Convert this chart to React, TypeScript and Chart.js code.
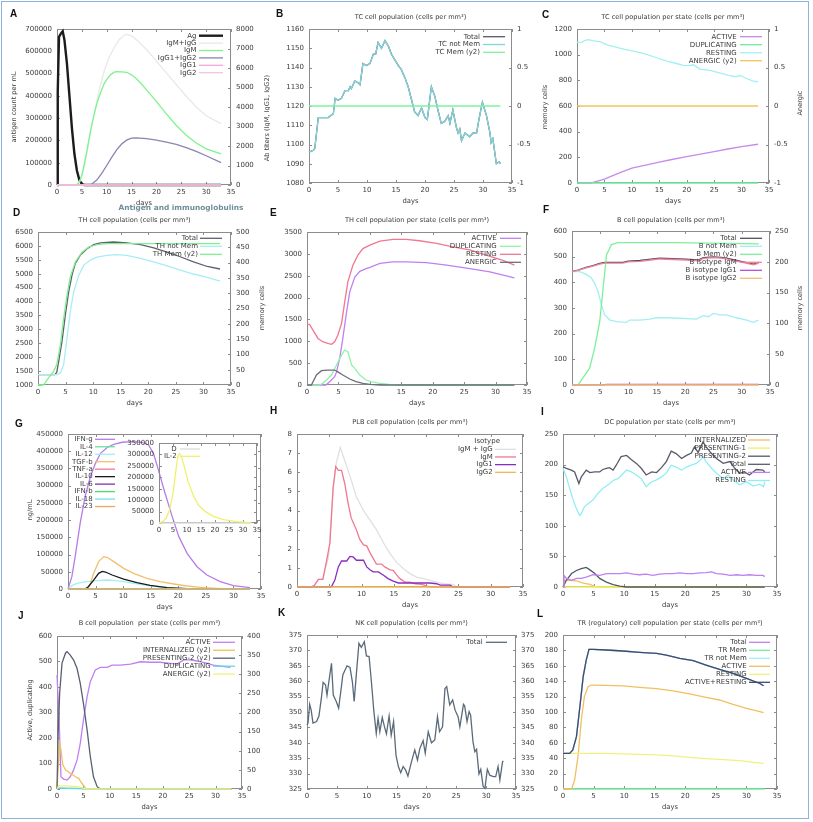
import React, { useEffect, useRef } from 'react';
import { Chart, registerables } from 'chart.js';

Chart.register(...registerables);
const FONT = '"DejaVu Sans", sans-serif';
Chart.defaults.font.family = FONT;

const TXT = '#3a3a3a';
const FRAME = '#8c8c8c';

type Pt = [number, number];

// ---------- A: Antigen and immunoglobulins ----------
const A_AG: Pt[] = [[0,0],[0.15,420000],[0.4,665000],[0.8,680000],[1.15,690000],[1.5,650000],[2,545000],[2.5,400000],[3,255000],[3.5,140000],[4,65000],[4.5,22000],[5,4000],[5.5,0],[33,0]];
const A_IGM_IGG: Pt[] = [[0,0],[3.5,0],[4.5,120],[5.5,900],[6.5,2300],[7.5,3700],[8.5,4900],[9.5,5850],[10.5,6550],[11.5,7050],[12.5,7450],[13.5,7680],[14,7720],[15,7650],[16,7450],[18,6950],[20,6350],[22,5750],[24,5150],[26,4550],[28,4000],[30,3550],[33,3150]];
const A_IGM: Pt[] = [[0,0],[4,0],[4.5,150],[5,500],[5.5,1100],[6,1750],[6.5,2450],[7,3100],[7.5,3650],[8,4150],[8.5,4550],[9,4900],[9.5,5200],[10,5400],[10.5,5580],[11,5700],[11.5,5790],[12,5810],[13,5800],[14,5780],[15,5650],[16,5450],[17,5180],[18,4880],[19,4580],[20,4280],[22,3650],[24,3050],[26,2550],[28,2150],[30,1850],[33,1600]];
const A_IGG: Pt[] = [[0,0],[6.5,0],[7,50],[8,250],[9,600],[10,1000],[11,1420],[12,1800],[13,2100],[14,2300],[15,2400],[16,2420],[18,2380],[20,2300],[22,2200],[24,2080],[26,1920],[28,1720],[30,1500],[33,1150]];
const A_IGG1: Pt[] = [[0,0],[33,0]];
const A_IGG2: Pt[] = [[0,0],[33,0]];

// ---------- B: TC cell population ----------
const B_NOTMEM: Pt[] = [[0,1096],[0.75,1097],[1,1098],[1.6,1114],[3.3,1114],[4.2,1116],[4.5,1124],[5,1123],[5.6,1124],[6.2,1128],[6.8,1128],[7.1,1130],[7.3,1129],[7.9,1133],[8.5,1132],[8.8,1131],[9.3,1142],[9.9,1141],[10.5,1142],[11.1,1147],[11.5,1147],[11.9,1153],[12.5,1150],[13.1,1154],[13.7,1151],[14.2,1147],[14.8,1144],[15.4,1141],[15.9,1139],[16.5,1135],[17.1,1130],[17.7,1123],[18.2,1117],[18.8,1115],[19.4,1119],[20,1114],[20.4,1113],[21.1,1130],[21.7,1125],[22.3,1117],[22.8,1111],[23.4,1112],[24,1115],[24.3,1111],[24.8,1118],[25.4,1109],[25.7,1106],[26,1108],[26.3,1102],[26.9,1106],[27.7,1104],[28.3,1106],[28.9,1106],[29.3,1113],[29.9,1122],[30.6,1115],[31.2,1106],[31.4,1101],[31.7,1103],[32.3,1090],[32.8,1091],[33,1090]];
const B_TOTAL: Pt[] = B_NOTMEM;
const B_MEM: Pt[] = [[0,0],[33,0]];

// ---------- C: TC cell population per state ----------
const C_ACTIVE: Pt[] = [[0,0],[2.5,0],[5,31],[7.5,75],[10,115],[12.5,140],[15,162],[17.5,185],[20,205],[22.5,225],[25,245],[27.5,265],[30,284],[33,302]];
const C_DUP: Pt[] = [[0,0],[33,0]];
const C_RESTING: Pt[] = [[0,1096],[0.9,1096],[1.5,1112],[2.1,1117],[3,1108],[4.2,1101],[5.5,1077],[7.3,1057],[8.8,1040],[10.3,1027],[11.5,1015],[12.7,1002],[14.5,976],[16.4,950],[17.6,937],[19.4,916],[20.6,914],[21.2,921],[22.4,888],[24.2,877],[26,859],[27.6,838],[29,828],[29.7,838],[30.6,820],[32.1,794],[33,789]];
const C_ANERGIC: Pt[] = [[0,0],[33,0]];

// ---------- D: TH cell population ----------
const D_TOTAL: Pt[] = [[0,1370],[3,1370],[3.4,1450],[3.75,1850],[4.35,2560],[4.96,3520],[5.56,4350],[6.17,4950],[6.77,5370],[7.68,5670],[8.9,5900],[10.1,6050],[11.3,6110],[13.7,6140],[16.1,6110],[18.6,6050],[21,5930],[23.4,5780],[25.8,5610],[28.2,5430],[30.7,5260],[33,5170]];
const D_NOTMEM: Pt[] = [[0,1370],[3.5,1370],[4.1,1450],[4.65,1730],[5.26,2680],[5.86,3640],[6.47,4350],[7.4,4950],[8.3,5310],[9.5,5490],[10.7,5600],[12.5,5660],[14.3,5690],[16.1,5660],[18.6,5550],[21,5430],[23.4,5280],[25.8,5130],[28.2,4990],[30.7,4870],[33,4730]];
const D_MEM: Pt[] = [[0,0],[1,0],[1.9,23],[2.8,44],[3.4,66],[4.05,131],[4.65,218],[5.26,294],[5.86,354],[6.77,402],[7.98,434],[9.2,451],[10.7,459],[12.5,462],[33,462]];

// ---------- E: TH cell population per state ----------
const E_ACTIVE: Pt[] = [[0,0],[3,0],[3.6,76],[4.4,190],[4.7,300],[5.2,610],[5.7,1065],[6.3,1675],[6.8,2130],[7.6,2470],[8.4,2600],[9.4,2660],[10,2690],[11.6,2780],[13.7,2815],[15.8,2815],[19,2800],[22.2,2740],[25.9,2660],[29.1,2590],[33,2450]];
const E_DUP: Pt[] = [[0,0],[2,0],[2.5,38],[3.1,114],[3.9,228],[4.7,456],[5.5,685],[6,800],[6.5,760],[7.1,456],[7.6,380],[8.4,228],[9.4,114],[10.2,76],[11.6,38],[13.1,15],[15.3,0],[33,0]];
const E_RESTING: Pt[] = [[0,1385],[0.4,1385],[0.95,1255],[1.75,1065],[2.5,990],[3.3,950],[3.9,930],[4.4,990],[4.9,1140],[5.5,1410],[6,1900],[6.5,2360],[7.3,2740],[8.1,2970],[8.9,3120],[10,3200],[11.6,3290],[13.7,3330],[15.8,3330],[17.9,3300],[20.6,3240],[23.2,3160],[25.9,3090],[28.5,2970],[31.2,2850],[33,2740]];
const E_ANERGIC: Pt[] = [[0,0],[0.7,0],[1.5,228],[2.3,327],[3.3,342],[4.4,342],[4.9,300],[5.7,228],[6.8,137],[7.8,76],[8.9,38],[10,15],[11.6,0],[33,0]];

// ---------- F: B cell population ----------
const F_TOTAL: Pt[] = [[0,442],[1.06,448],[2.5,458],[3.7,465],[4.9,474],[5.8,478],[7,478],[9,478],[9.9,483],[12,485],[14.3,491],[15.5,494],[17.9,492],[20.2,490],[22.3,487],[23.2,496],[25,499],[26.4,497],[27.3,494],[29.7,483],[32.1,471],[33,478]];
const F_NOTMEM: Pt[] = [[0,442],[1.4,442],[2.5,431],[3.4,418],[4,396],[4.6,364],[5.2,312],[5.8,273],[6.7,253],[7.9,247],[9.6,244],[10.2,253],[12,253],[13.8,257],[14.9,262],[16.7,262],[19.1,260],[22,257],[23.2,270],[24.1,266],[25,279],[26.2,273],[27.3,273],[29.1,262],[30.9,253],[32,244],[33,253]];
const F_MEM: Pt[] = [[0,0],[1.06,0],[1.9,11],[3.1,27],[4,60],[4.9,103],[5.5,157],[6.1,211],[6.97,228],[8.1,231],[17.9,231],[33,229]];
const F_IGM: Pt[] = [[0,441],[1.06,447],[2.5,456],[3.7,463],[4.9,471],[5.8,475],[9,475],[9.9,480],[12,482],[14.3,488],[15.5,491],[17.9,489],[20.2,487],[22.3,484],[23.2,493],[25,496],[26.4,494],[27.3,491],[29.7,480],[32.1,468],[33,475]];
const F_IGG1: Pt[] = [[0,0],[5.8,0],[6,2],[33,2]];
const F_IGG2: Pt[] = [[0,0],[33,0]];

// ---------- G: cytokines ----------
const G_IFNG: Pt[] = [[0,0],[0.1,0],[0.7,35800],[1.3,93900],[2.2,190600],[3.1,268000],[4.05,326000],[4.96,364000],[5.9,394000],[7.1,411000],[8.3,420000],[9.8,426000],[11.6,428000],[13.4,426000],[14.6,418000],[15.5,394000],[16.4,345000],[17.6,278000],[18.9,210000],[20.1,152000],[21.6,103500],[23.4,64800],[25.2,40600],[27.6,21300],[30,9700],[33,4000]];
const G_IL4: Pt[] = [[0,0],[33,0]];
const G_IL12: Pt[] = [[0,0],[0.1,0],[0.7,9700],[1.6,16500],[3.4,21300],[5.3,24200],[7.1,26100],[8.3,25200],[10.1,21300],[11.9,16500],[14.3,10600],[16.7,5800],[19.2,2900],[21.6,970],[24,0],[33,0]];
const G_TGFB: Pt[] = [[0,0],[3.4,0],[4.05,16500],[4.65,45500],[5.56,79400],[6.47,93900],[7.07,92000],[8.3,79400],[10.1,60000],[11.9,45500],[14.3,31000],[16.7,21300],[19.2,14500],[21.6,8700],[24,4800],[27,1900],[30,0],[33,0]];
const G_TNFA: Pt[] = [[0,0],[33,0]];
const G_IL10: Pt[] = [[0,0],[3.1,0],[3.7,6800],[4.65,26000],[5.56,45500],[6.2,51300],[6.8,49300],[8,40600],[10.1,29000],[12.5,18400],[14.9,10600],[17.96,3900],[21.6,970],[24,0],[33,0]];
const G_IL6: Pt[] = [[0,0],[33,0]];
const G_IFNB: Pt[] = [[0,0],[33,0]];
const G_IL18: Pt[] = [[0,0],[33,0]];
const G_IL23: Pt[] = [[0,0],[33,0]];
const G_D: Pt[] = [[0,0],[33,0]];
const G_IL2: Pt[] = [[0,0],[1.4,7200],[2.6,21700],[3.8,57900],[5,130000],[6.2,246000],[6.8,296000],[7.4,304000],[8,290000],[9.2,239000],[10.4,181000],[12.2,123000],[14,79500],[16.4,50600],[19.4,28900],[23,14500],[27.8,5800],[32.6,1400],[33,0]];

// ---------- H: PLB cell population ----------
const H_IGMIGG: Pt[] = [[0,0],[2.2,0],[2.7,0.1],[3.3,0.4],[4,0.4],[4.9,1.6],[5.6,5.2],[6.1,6.5],[6.7,7.3],[7.4,6.6],[8.2,5.8],[9.2,4.7],[10.3,4.0],[11.3,3.5],[12.3,3.0],[13.4,2.3],[14.4,1.75],[15.4,1.3],[16.5,0.95],[17.5,0.7],[18.5,0.52],[19.6,0.44],[20.6,0.35],[21.6,0.26],[22.7,0.17],[24.2,0.12],[24.8,0],[33,0]];
const H_IGM: Pt[] = [[0,0],[2.2,0],[2.7,0.09],[3.3,0.4],[4,0.4],[4.6,1.4],[5.1,2.3],[5.6,5.2],[6,6.3],[6.4,6.1],[6.9,6.1],[7.4,5.4],[7.9,4.4],[8.4,3.6],[9.2,3.0],[9.7,2.5],[10.3,2.2],[10.8,2.15],[11.3,1.8],[11.8,1.5],[12.3,1.2],[13.1,1.2],[13.6,1.05],[14.4,0.9],[14.9,0.87],[15.4,0.65],[15.9,0.45],[16.7,0.26],[17.5,0.26],[18.3,0.17],[19.3,0.14],[19.8,0.09],[20.6,0],[33,0]];
const H_IGG1: Pt[] = [[0,0],[5.3,0],[5.85,0.35],[6.4,1.05],[6.9,1.36],[7.7,1.36],[8.2,1.6],[8.7,1.57],[9.2,1.4],[10.3,1.4],[10.8,1.05],[11.3,0.9],[11.8,0.79],[12.6,0.79],[13.4,0.61],[14.1,0.44],[14.9,0.31],[15.7,0.21],[20.6,0.21],[21.6,0.17],[22.2,0.1],[23.7,0.1],[24.2,0],[33,0]];
const H_IGG2: Pt[] = [[0,0],[33,0]];

// ---------- I: DC population per state ----------
const I_INT: Pt[] = [[0,0],[0.3,11],[1.1,11],[2.2,10],[3.3,6.5],[4.4,4.4],[5.2,1],[6,0],[33,0]];
const I_PRES1: Pt[] = [[0,0],[33,0]];
const I_PRES2: Pt[] = [[0,0],[0.55,11],[1.4,22],[2.2,27],[3,30],[3.8,32],[4.4,28],[5.2,22],[6,14],[7.1,8],[8.2,4],[9.3,1.6],[10.4,0],[33,0]];
const I_TOTAL: Pt[] = [[0,196.5],[0.55,193.9],[1.36,191],[1.9,188],[2.6,169],[3,180],[3.8,191],[4.4,187],[5.2,188],[6,188],[6.5,192],[7.1,194],[7.6,195],[8.2,191],[8.7,199],[9.5,213],[10.4,215],[11.2,208],[12,202],[12.8,194],[13.6,183],[14.5,188],[15.3,187],[16.1,195],[16.9,205],[17.7,222],[18.5,218],[19.4,210],[20.2,215],[21,219],[21.5,229],[22.1,220],[22.9,237],[23.4,229],[24.3,218],[25.1,210],[26.2,202],[27.3,205],[28.1,194],[28.9,186],[29.7,188],[30.5,183],[31.6,192],[32.7,191],[33,188]];
const I_ACTIVE: Pt[] = [[0,0],[0.16,19],[0.55,14],[1.4,11],[2.2,14],[3,14],[3.8,16],[4.9,20],[6,19],[7.1,22],[8.2,22],[9.3,22],[10.4,23],[11.5,21],[12.5,20],[13.6,21],[14.7,19],[15.8,21],[16.9,22],[18,22],[19.1,23],[20.2,22],[21.3,22],[22.4,23],[23.4,23.5],[24.3,24.6],[25.1,22],[26.2,21],[27.3,19],[28.4,20],[29.4,19],[30.5,20],[31.6,19],[32.7,19],[33,17]];
const I_RESTING: Pt[] = [[0,194],[0.55,180],[1.1,161],[1.6,144],[2.2,128],[2.7,117],[3,120],[3.5,131],[4.1,136],[4.9,142],[5.7,153],[6.5,161],[7.4,167],[8.2,174],[9,177],[9.8,185],[10.4,191],[11.2,188],[12,183],[12.8,177],[13.6,164],[14.5,172],[15.3,175],[16.1,180],[16.9,186],[17.7,199],[18.5,196],[19.4,191],[20.2,196],[21,199],[21.8,202],[22.4,207],[22.9,213],[23.4,205],[24.3,194],[25.1,186],[26.2,177],[27,183],[27.8,175],[28.9,167],[30,172],[31.1,165],[32.2,168],[32.8,164],[33,172]];

// ---------- J: B cell population per state ----------
const J_ACTIVE: Pt[] = [[0,447],[0.1,447],[0.4,270],[0.75,48],[1.26,39],[1.9,35],[2.5,48],[3.15,75],[3.8,114],[4.4,179],[5,270],[5.7,362],[6.3,421],[7.25,467],[8.2,477],[9.5,477],[10.4,486],[12,486],[13.9,490],[15.8,499],[17.65,497],[19.5,497],[21.4,493],[22.7,490],[24,506],[25.2,506],[26.5,502],[27.7,497],[29.6,486],[30.9,482],[32.8,477]];
const J_INT: Pt[] = [[0,0],[0.25,58],[0.5,119],[0.75,102],[1.1,63],[1.6,50],[2.5,41],[3.5,32],[4.1,28],[4.7,15],[5.4,2],[5.7,0],[33,0]];
const J_PRES2: Pt[] = [[0,0],[0.2,137],[0.5,250],[0.95,329],[1.6,355],[1.9,359],[2.5,350],[3.15,337],[3.8,315],[4.4,276],[5,224],[5.7,154],[6.3,85],[6.9,32],[7.6,6],[8.2,0],[33,0]];
const J_DUP: Pt[] = [[0,0],[0.5,4],[2,3],[4,2],[5.5,0],[33,0]];
const J_ANERGIC: Pt[] = [[0,0],[0.3,8],[1.9,8],[3.8,6],[5,2],[5.7,0],[33,0]];

// ---------- K: NK cell population ----------
const K_TOTAL: Pt[] = [[0,345.8],[0.17,346.4],[0.45,352.5],[0.7,350.6],[1,346.4],[1.6,346.9],[2,348.7],[2.4,354.4],[2.7,359.6],[3.1,358.8],[3.35,355.5],[3.7,360.4],[4.1,365.8],[4.4,355.5],[4.9,353.4],[5.3,351.2],[5.8,358.8],[6,362],[6.7,365],[7.2,364.5],[7.6,359.8],[7.9,353.4],[8.3,363.2],[8.7,372.3],[9.1,371],[9.6,372.8],[9.95,368.2],[10.4,368],[10.8,359.5],[11.2,350.1],[11.6,343],[11.9,347.9],[12.2,343.6],[12.6,348.2],[13,345],[13.3,342.9],[13.75,348.7],[14.1,342.5],[14.5,346.9],[14.9,336],[15.3,332.3],[15.7,330.3],[16.1,332.3],[16.5,331.2],[16.9,329.2],[17.5,333.9],[18.05,337.7],[18.5,334.4],[18.9,338.2],[19.45,340.7],[19.8,336.6],[20.3,343.6],[20.85,340],[21.4,340.9],[21.85,348.5],[22.2,343.6],[22.7,345.2],[23.1,357.6],[23.4,358.2],[23.9,352.3],[24.4,353.9],[24.8,350.6],[25.3,348.5],[25.6,345.2],[26.2,352.5],[26.4,352],[26.8,346.9],[27.15,350.1],[27.4,349],[27.8,340.3],[28.1,337.1],[28.4,337.9],[28.8,329.9],[29.1,331.4],[29.5,325.8],[29.8,325.2],[30.2,331.4],[30.6,329.5],[31.2,329],[31.6,329],[32,332.3],[32.3,327.9],[32.75,333.9],[32.9,334.1]];

// ---------- L: TR cell population per state ----------
const L_AR: Pt[] = [[0,46.3],[1.1,46.3],[1.6,50.6],[2.2,68],[2.7,102.6],[3.3,145.9],[3.8,167.5],[4.25,181.4],[4.9,181.4],[7.1,180.5],[9.8,179.2],[12.5,177.5],[15.3,176.2],[16.9,174],[19.1,169.7],[21.3,166.7],[23.4,161],[25.6,155.4],[27.8,150.2],[30,143.7],[32.2,137],[32.8,134]];
const L_TOTAL: Pt[] = L_AR;
const L_MEM: Pt[] = [[0,0],[33,0]];
const L_NOTMEM: Pt[] = L_AR;
const L_ACTIVE: Pt[] = [[0,0],[1.4,0],[1.9,11.7],[2.45,42],[3,89.6],[3.5,120],[4.1,132.9],[4.6,135],[7.1,134.6],[9.8,133.8],[12.5,132],[15.3,130.3],[18,127.3],[20.7,123.4],[23.4,119],[25.6,115.6],[27.8,110],[30,104.8],[32.2,100.4],[32.8,99.1]];
const L_RESTING: Pt[] = [[0,46.3],[7.1,46.3],[9.8,45.5],[12.5,45],[15.3,44.2],[18,42.9],[20.7,41.1],[23.4,39.4],[26.2,38.1],[28.9,36.8],[31.1,34.6],[32.8,33.3]];

// ---------- panel letters ----------
const LETTERS: [string, number, number][] = [
  ['A', 10, 13.5], ['B', 276, 14], ['C', 542, 14.5],
  ['D', 13, 212.5], ['E', 270, 212.5], ['F', 543, 209.5],
  ['G', 15, 424], ['H', 270, 411], ['I', 541, 412],
  ['J', 18, 616], ['K', 278, 613], ['L', 537, 614],
];

// ---------- layout types ----------
interface S { label: string; color: string; pts: Pt[]; y2?: boolean; w?: number }
interface Ax { min: number; max: number; step: number }
interface T { s: string; x: number; y: number; size?: number; bold?: boolean; color?: string; rot?: boolean }
interface Lg { tx: number; y0: number; dy: number; s1: number; s2: number; header?: string; hx?: number; hy?: number }
interface Panel {
  box: [number, number, number, number];
  plot: [number, number, number, number];
  y: Ax; y2?: Ax;
  series: S[]; legend: Lg; texts: T[];
}

const ttl = (s: string, x: number, y: number): T => ({ s, x, y, size: 6.6 });
const ylab = (s: string, x: number, y: number): T => ({ s, x, y, size: 6.6, rot: true });
const days = (p: [number, number, number, number]): T => ({ s: 'days', x: (p[0] + p[2]) / 2, y: p[3] + 18, size: 6.8 });

const PLOTS: Record<string, [number, number, number, number]> = {
  A: [57, 29, 231, 185], B: [309, 29, 512, 183], C: [577, 29, 769, 183],
  D: [38, 232, 231, 385], E: [307, 232, 527, 385], F: [572, 231, 770, 385],
  G: [68, 434, 261, 589], G2: [159, 443, 257, 523], H: [297, 434, 523, 587], I: [563, 434, 777, 587],
  J: [57, 636, 242, 789], K: [307, 635, 516, 789], L: [563, 635, 777, 789],
};
const cx = (k: string) => (PLOTS[k][0] + PLOTS[k][2]) / 2;

const PANELS: Panel[] = [
  {
    box: [0, 0, 270, 215], plot: PLOTS.A,
    y: { min: 0, max: 700000, step: 100000 }, y2: { min: 0, max: 8000, step: 1000 },
    series: [
      { label: 'Ag', color: '#1c1c1c', pts: A_AG, w: 2.4 },
      { label: 'IgM+IgG', color: '#e8e8e8', pts: A_IGM_IGG, y2: true },
      { label: 'IgM', color: '#7ef38e', pts: A_IGM, y2: true },
      { label: 'IgG1+IgG2', color: '#8886b2', pts: A_IGG, y2: true },
      { label: 'IgG1', color: '#f2a6dc', pts: A_IGG1, y2: true },
      { label: 'IgG2', color: '#f2c6de', pts: A_IGG2, y2: true },
    ],
    legend: { tx: 196.5, y0: 35.7, dy: 7.4, s1: 199, s2: 223 },
    texts: [ylab('antigen count per mL', 14, 107), ylab('Ab titers (IgM, IgG1, IgG2)', 267, 118), ylab('arbitrary scale', 275, 92), days(PLOTS.A),
      { s: 'Antigen and immunoglobulins', x: 181, y: 208.5, size: 7.4, bold: true, color: '#6f8e9c' }],
  },
  {
    box: [270, 0, 270, 215], plot: PLOTS.B,
    y: { min: 1080, max: 1160, step: 10 }, y2: { min: -1, max: 1, step: 0.5 },
    series: [
      { label: 'Total', color: '#585868', pts: B_TOTAL },
      { label: 'TC not Mem', color: '#82d6da', pts: B_NOTMEM },
      { label: 'TC Mem (y2)', color: '#7ff29a', pts: B_MEM, y2: true },
    ],
    legend: { tx: 480, y0: 36.7, dy: 7.8, s1: 483, s2: 505 },
    texts: [ttl('TC cell population (cells per mm³)', cx('B'), 17), days(PLOTS.B)],
  },
  {
    box: [540, 0, 273, 215], plot: PLOTS.C,
    y: { min: 0, max: 1200, step: 200 }, y2: { min: -1, max: 1, step: 0.5 },
    series: [
      { label: 'ACTIVE', color: '#c58be8', pts: C_ACTIVE },
      { label: 'DUPLICATING', color: '#6fe8a0', pts: C_DUP },
      { label: 'RESTING', color: '#a2f0f2', pts: C_RESTING },
      { label: 'ANERGIC (y2)', color: '#f2c45a', pts: C_ANERGIC, y2: true },
    ],
    legend: { tx: 736.7, y0: 36.7, dy: 8, s1: 740, s2: 762 },
    texts: [ttl('TC cell population per state (cells per mm³)', cx('C'), 17), ylab('memory cells', 545, 107), ylab('Anergic', 800, 103), days(PLOTS.C)],
  },
  {
    box: [0, 205, 270, 210], plot: PLOTS.D,
    y: { min: 1000, max: 6500, step: 500 }, y2: { min: 0, max: 500, step: 50 },
    series: [
      { label: 'Total', color: '#5e6070', pts: D_TOTAL },
      { label: 'TH not Mem', color: '#a6eef4', pts: D_NOTMEM },
      { label: 'TH Mem (y2)', color: '#7ff090', pts: D_MEM, y2: true },
    ],
    legend: { tx: 198, y0: 238.3, dy: 8, s1: 200, s2: 222 },
    texts: [ttl('TH cell population (cells per mm³)', cx('D'), 220), ylab('memory cells', 262, 308), days(PLOTS.D)],
  },
  {
    box: [270, 205, 270, 210], plot: PLOTS.E,
    y: { min: 0, max: 3500, step: 500 },
    series: [
      { label: 'ACTIVE', color: '#c080f0', pts: E_ACTIVE },
      { label: 'DUPLICATING', color: '#90f2a8', pts: E_DUP },
      { label: 'RESTING', color: '#f07890', pts: E_RESTING },
      { label: 'ANERGIC', color: '#6a7078', pts: E_ANERGIC },
    ],
    legend: { tx: 496.7, y0: 238.3, dy: 8, s1: 500, s2: 521 },
    texts: [ttl('TH cell population per state (cells per mm³)', cx('E'), 220), days(PLOTS.E)],
  },
  {
    box: [540, 205, 273, 210], plot: PLOTS.F,
    y: { min: 0, max: 600, step: 100 }, y2: { min: 0, max: 250, step: 50 },
    series: [
      { label: 'Total', color: '#505060', pts: F_TOTAL },
      { label: 'B not Mem', color: '#a4eef4', pts: F_NOTMEM },
      { label: 'B Mem (y2)', color: '#7cf09a', pts: F_MEM, y2: true },
      { label: 'B isotype IgM', color: '#f08098', pts: F_IGM },
      { label: 'B isotype IgG1', color: '#b050e0', pts: F_IGG1 },
      { label: 'B isotype IgG2', color: '#f2c070', pts: F_IGG2 },
    ],
    legend: { tx: 736.7, y0: 238.3, dy: 8, s1: 740, s2: 762 },
    texts: [ttl('B cell population (cells per mm³)', cx('F'), 220), ylab('memory cells', 800, 308), days(PLOTS.F)],
  },
  {
    box: [0, 410, 270, 205], plot: PLOTS.G,
    y: { min: 0, max: 450000, step: 50000 },
    series: [
      { label: 'IFN-g', color: '#b77ce8', pts: G_IFNG },
      { label: 'IL-4', color: '#66e0a0', pts: G_IL4 },
      { label: 'IL-12', color: '#a0f0f4', pts: G_IL12 },
      { label: 'TGF-b', color: '#f0c070', pts: G_TGFB },
      { label: 'TNF-a', color: '#f07890', pts: G_TNFA },
      { label: 'IL-10', color: '#1a1a1a', pts: G_IL10 },
      { label: 'IL-6', color: '#8030b0', pts: G_IL6 },
      { label: 'IFN-b', color: '#50d870', pts: G_IFNB },
      { label: 'IL-18', color: '#70e0e8', pts: G_IL18 },
      { label: 'IL-23', color: '#e8a860', pts: G_IL23 },
    ],
    legend: { tx: 92.7, y0: 439.3, dy: 7.47, s1: 95, s2: 115 },
    texts: [ylab('ng/mL', 30, 510), days(PLOTS.G)],
  },
  {
    box: [120, 435, 145, 105], plot: PLOTS.G2,
    y: { min: 0, max: 350000, step: 50000 },
    series: [
      { label: 'D', color: '#dcdcdc', pts: G_D },
      { label: 'IL-2', color: '#f0f070', pts: G_IL2 },
    ],
    legend: { tx: 176.7, y0: 449, dy: 7.3, s1: 180, s2: 200 },
    texts: [],
  },
  {
    box: [270, 410, 270, 205], plot: PLOTS.H,
    y: { min: 0, max: 8, step: 1 },
    series: [
      { label: 'IgM + IgG', color: '#e0e0e0', pts: H_IGMIGG },
      { label: 'IgM', color: '#f07890', pts: H_IGM },
      { label: 'IgG1', color: '#8a2cc0', pts: H_IGG1 },
      { label: 'IgG2', color: '#f0b850', pts: H_IGG2 },
    ],
    legend: { tx: 492.7, y0: 449.3, dy: 7.67, s1: 495, s2: 516, header: 'Isotype', hx: 500, hy: 441.3 },
    texts: [ttl('PLB cell population (cells per mm³)', cx('H'), 422), days(PLOTS.H)],
  },
  {
    box: [540, 410, 273, 205], plot: PLOTS.I,
    y: { min: 0, max: 250, step: 50 },
    series: [
      { label: 'INTERNALIZED', color: '#f0c060', pts: I_INT },
      { label: 'PRESENTING-1', color: '#f0f060', pts: I_PRES1 },
      { label: 'PRESENTING-2', color: '#505868', pts: I_PRES2 },
      { label: 'Total', color: '#5a5a6a', pts: I_TOTAL },
      { label: 'ACTIVE', color: '#c080f0', pts: I_ACTIVE },
      { label: 'RESTING', color: '#90eef4', pts: I_RESTING },
    ],
    legend: { tx: 746, y0: 440, dy: 8.1, s1: 748, s2: 770 },
    texts: [ttl('DC population per state (cells per mm³)', cx('I'), 422), days(PLOTS.I)],
  },
  {
    box: [0, 610, 270, 212], plot: PLOTS.J,
    y: { min: 0, max: 600, step: 100 }, y2: { min: 0, max: 400, step: 50 },
    series: [
      { label: 'ACTIVE', color: '#c080f0', pts: J_ACTIVE },
      { label: 'INTERNALIZED (y2)', color: '#f0c060', pts: J_INT, y2: true },
      { label: 'PRESENTING-2 (y2)', color: '#586070', pts: J_PRES2, y2: true },
      { label: 'DUPLICATING', color: '#60d8e8', pts: J_DUP },
      { label: 'ANERGIC (y2)', color: '#f0f080', pts: J_ANERGIC, y2: true },
    ],
    legend: { tx: 210.7, y0: 642.3, dy: 7.95, s1: 213, s2: 235 },
    texts: [ttl('B cell population  per state (cells per mm³)', cx('J'), 623), ylab('Active, duplicating', 30, 710), ylab('Internalized, presenting, anergic', 274, 713), days(PLOTS.J)],
  },
  {
    box: [270, 610, 270, 212], plot: PLOTS.K,
    y: { min: 325, max: 375, step: 5 }, y2: { min: 325, max: 375, step: 5 },
    series: [{ label: 'Total', color: '#5a6a78', pts: K_TOTAL }],
    legend: { tx: 482.7, y0: 642.3, dy: 8, s1: 486, s2: 507 },
    texts: [ttl('NK cell population (cells per mm³)', cx('K'), 623), days(PLOTS.K)],
  },
  {
    box: [540, 610, 273, 212], plot: PLOTS.L,
    y: { min: 0, max: 200, step: 20 },
    series: [
      { label: 'Total', color: '#c080f0', pts: L_TOTAL },
      { label: 'TR Mem', color: '#70f0a0', pts: L_MEM },
      { label: 'TR not Mem', color: '#a0f0f4', pts: L_NOTMEM },
      { label: 'ACTIVE', color: '#f0c060', pts: L_ACTIVE },
      { label: 'RESTING', color: '#f0f080', pts: L_RESTING },
      { label: 'ACTIVE+RESTING', color: '#3c4c6c', pts: L_AR },
    ],
    legend: { tx: 746.7, y0: 642.3, dy: 8, s1: 749, s2: 770 },
    texts: [ttl('TR (regulatory) cell population per state (cells per mm³)', cx('L'), 623), days(PLOTS.L)],
  },
];

function makeDeco(p: Panel) {
  const [bx, by] = p.box;
  return {
    id: 'deco',
    beforeDatasetsDraw(chart: any) {
      const ctx = chart.ctx as CanvasRenderingContext2D;
      const a = chart.chartArea;
      ctx.save();
      ctx.strokeStyle = FRAME;
      ctx.lineWidth = 1;
      ctx.strokeRect(a.left + 0.5, a.top + 0.5, a.right - a.left - 1, a.bottom - a.top - 1);
      const tl = 3;
      const xs = chart.scales.x, ys = chart.scales.y, y2 = chart.scales.y2;
      ctx.beginPath();
      xs.ticks.forEach((t: any) => {
        const px = Math.round(xs.getPixelForValue(t.value)) + 0.5;
        ctx.moveTo(px, a.bottom); ctx.lineTo(px, a.bottom - tl);
        ctx.moveTo(px, a.top); ctx.lineTo(px, a.top + tl);
      });
      ys.ticks.forEach((t: any) => {
        const py = Math.round(ys.getPixelForValue(t.value)) + 0.5;
        ctx.moveTo(a.left, py); ctx.lineTo(a.left + tl, py);
        if (!p.y2) { ctx.moveTo(a.right, py); ctx.lineTo(a.right - tl, py); }
      });
      if (p.y2) {
        y2.ticks.forEach((t: any) => {
          const py = Math.round(y2.getPixelForValue(t.value)) + 0.5;
          ctx.moveTo(a.right, py); ctx.lineTo(a.right - tl, py);
        });
      }
      ctx.stroke();
      ctx.restore();
    },
    afterDraw(chart: any) {
      const ctx = chart.ctx as CanvasRenderingContext2D;
      ctx.save();
      ctx.textBaseline = 'middle';
      for (const t of p.texts) {
        ctx.font = `${t.bold ? 'bold ' : ''}${t.size ?? 7}px ${FONT}`;
        ctx.fillStyle = t.color ?? TXT;
        const x = t.x - bx, y = t.y - by;
        ctx.textAlign = 'center';
        if (t.rot) {
          ctx.save(); ctx.translate(x, y); ctx.rotate(-Math.PI / 2);
          ctx.fillText(t.s, 0, 0); ctx.restore();
        } else {
          ctx.fillText(t.s, x, y);
        }
      }
      const lg = p.legend;
      ctx.font = `7px ${FONT}`;
      ctx.textAlign = 'right';
      if (lg.header) { ctx.fillStyle = TXT; ctx.fillText(lg.header, (lg.hx ?? lg.tx) - bx, (lg.hy ?? lg.y0) - by); }
      p.series.forEach((s, i) => {
        const y = lg.y0 + i * lg.dy - by;
        ctx.fillStyle = TXT;
        ctx.fillText(s.label, lg.tx - bx, y);
        ctx.strokeStyle = s.color;
        ctx.lineWidth = s.w ?? 1.3;
        ctx.beginPath(); ctx.moveTo(lg.s1 - bx, y); ctx.lineTo(lg.s2 - bx, y); ctx.stroke();
      });
      ctx.restore();
    },
  };
}

function buildConfig(p: Panel): any {
  const [bx, by, bw, bh] = p.box;
  const [px1, py1, px2, py2] = p.plot;
  const WL = px1 - bx, WR = bx + bw - px2, HX = by + bh - py2, PT = py1 - by;
  const fix = (w?: number, h?: number) => (scale: any) => {
    if (w !== undefined) scale.width = w;
    if (h !== undefined) scale.height = h;
    scale.paddingTop = 0; scale.paddingBottom = 0; scale.paddingLeft = 0; scale.paddingRight = 0;
  };
  const tickFont = { family: FONT, size: 7 };
  const noGrid = { display: false, drawTicks: false };
  const y2ax = p.y2 ?? p.y;
  return {
    type: 'line',
    data: {
      datasets: p.series.map((s, i) => ({
        label: s.label,
        data: s.pts.map(([x, y]) => ({ x, y })),
        borderColor: s.color,
        borderWidth: s.w ?? 1.3,
        pointRadius: 0,
        tension: 0,
        fill: false,
        clip: false,
        yAxisID: s.y2 ? 'y2' : 'y',
        order: -i,
      })),
    },
    options: {
      responsive: false,
      devicePixelRatio: 1,
      animation: false,
      events: [],
      layout: { padding: { top: PT, left: 0, right: 0, bottom: 0 } },
      plugins: { legend: { display: false }, tooltip: { enabled: false }, title: { display: false } },
      scales: {
        x: {
          type: 'linear', min: 0, max: 35,
          ticks: { stepSize: 5, padding: 3, color: TXT, font: tickFont, maxRotation: 0, autoSkip: false, callback: (v: any) => String(v) },
          grid: noGrid, border: { display: false }, afterFit: fix(undefined, HX),
        },
        y: {
          type: 'linear', position: 'left', min: p.y.min, max: p.y.max,
          ticks: { stepSize: p.y.step, padding: 5, color: TXT, font: tickFont, autoSkip: false, callback: (v: any) => String(v) },
          grid: noGrid, border: { display: false }, afterFit: fix(WL),
        },
        y2: {
          type: 'linear', position: 'right', min: y2ax.min, max: y2ax.max,
          ticks: { display: !!p.y2, stepSize: y2ax.step, padding: 5, color: TXT, font: tickFont, autoSkip: false, callback: (v: any) => String(v) },
          grid: noGrid, border: { display: false }, afterFit: fix(WR),
        },
      },
    },
    plugins: [makeDeco(p)],
  };
}

function PanelChart({ p }: { p: Panel }) {
  const ref = useRef<HTMLCanvasElement>(null);
  useEffect(() => {
    const chart = new Chart(ref.current as HTMLCanvasElement, buildConfig(p));
    return () => chart.destroy();
  }, [p]);
  const [bx, by, bw, bh] = p.box;
  return (
    <div style={{ position: 'absolute', left: bx, top: by, width: bw, height: bh }}>
      <canvas ref={ref} width={bw} height={bh} style={{ width: bw, height: bh, display: 'block' }} />
    </div>
  );
}

export default function App() {
  return (
    <div style={{ position: 'absolute', left: 0, top: 0, width: 813, height: 822, background: '#fff', overflow: 'hidden' }}>
      <div style={{ position: 'absolute', left: 1, top: 1, width: 808, height: 818, boxSizing: 'border-box', border: '1.5px solid #8fb3dc' }} />
      {PANELS.map((p, i) => <PanelChart key={i} p={p} />)}
      {LETTERS.map(([s, x, y]) => (
        <span key={s} style={{ position: 'absolute', left: x, top: y - 6, height: 12, lineHeight: '12px', fontFamily: '"Liberation Sans", Arial, sans-serif', fontWeight: 'bold', fontSize: 10, color: '#111' }}>{s}</span>
      ))}
    </div>
  );
}
